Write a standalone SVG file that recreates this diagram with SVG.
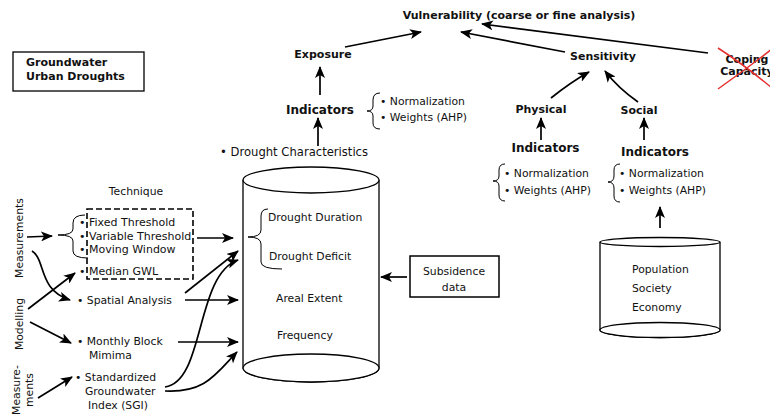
<svg xmlns="http://www.w3.org/2000/svg" width="770" height="415" viewBox="0 0 770 415">
<style>
text{font-family:"DejaVu Sans","Liberation Sans",sans-serif;fill:#111;font-size:10.8px}
.b{font-weight:bold;font-size:11px}
.ind{font-weight:bold;font-size:12px}
.m{text-anchor:middle}
.tq{font-size:11px}
.dc{font-size:11.6px}
.ar{fill:none;stroke:#000;stroke-width:1.7;marker-end:url(#ah)}
.br{fill:none;stroke:#000;stroke-width:1}
.shape{fill:#fff;stroke:#000;stroke-width:1.3}
</style>
<defs>
<marker id="ah" viewBox="0 0 12 10" refX="11" refY="5" markerWidth="12" markerHeight="10" orient="auto" markerUnits="userSpaceOnUse">
<path d="M0,0 L12,5 L0,10 L3,5 z" fill="#000"/>
</marker>
</defs>
<rect width="770" height="415" fill="#fff"/>

<g id="title">
<rect x="13" y="52" width="131" height="39" fill="#fff" stroke="#000" stroke-width="1.3"/>
<text class="b" x="26" y="66">Groundwater</text>
<text class="b" x="26" y="80">Urban Droughts</text>
</g>

<g id="vulnerability"><text class="b m" x="519" y="18.5">Vulnerability (coarse or fine analysis)</text></g>
<g id="exposure"><text class="b m" x="323" y="58">Exposure</text></g>
<g id="sensitivity"><text class="b m" x="603" y="60">Sensitivity</text></g>
<g id="coping">
<text class="b m" x="747" y="63">Coping</text>
<text class="b m" x="747" y="75">Capacity</text>
<path d="M718,48 Q743,64 772,88" fill="none" stroke="#e53030" stroke-width="1.5"/>
<path d="M718,89 Q745,70 772,49" fill="none" stroke="#e53030" stroke-width="1.5"/>
</g>

<g id="exposure-indicators">
<text class="ind m" x="320" y="114">Indicators</text>
<path class="br" d="M380,93 Q373,93 373,100 L373,106 Q373,111 367,111 Q373,111 373,116 L373,123 Q373,129 380,129"/>
<text x="380" y="105">• Normalization</text>
<text x="380" y="121">• Weights (AHP)</text>
</g>
<g id="drought-characteristics"><text class="dc" x="220" y="155.5">• Drought Characteristics</text></g>

<g id="physical"><text class="b m" x="541" y="113">Physical</text></g>
<g id="social"><text class="b m" x="639" y="114">Social</text></g>
<g id="physical-indicators">
<text class="ind m" x="545.5" y="152">Indicators</text>
<path class="br" d="M505,164 Q499,164 499,170 L499,176 Q499,181 493,181 Q499,181 499,186 L499,195 Q499,201 505,201"/>
<text x="504" y="177">• Normalization</text>
<text x="504" y="194">• Weights (AHP)</text>
</g>
<g id="social-indicators">
<text class="ind m" x="655" y="156">Indicators</text>
<path class="br" d="M620,164 Q614,164 614,170 L614,176 Q614,182 608,182 Q614,182 614,188 L614,196 Q614,202 620,202"/>
<text x="619" y="177">• Normalization</text>
<text x="619" y="194">• Weights (AHP)</text>
</g>

<g id="technique">
<text class="m" x="136" y="195">Technique</text>
<rect x="87" y="209" width="106" height="70" fill="none" stroke="#000" stroke-width="1.6" stroke-dasharray="6,3"/>
<path class="br" d="M85,215 Q73,215 73,223 L73,229 Q73,235 58,235 Q73,235 73,241 L73,251 Q73,258 88,258"/>
<text class="tq" x="79" y="226">• Fixed Threshold</text>
<text class="tq" x="79" y="240">• Variable Threshold</text>
<text class="tq" x="79" y="253">• Moving Window</text>
<text class="tq" x="79" y="275">• Median GWL</text>
</g>
<g id="spatial-analysis"><text x="77" y="304">• Spatial Analysis</text></g>
<g id="monthly-block">
<text x="77" y="345">• Monthly Block</text>
<text x="89" y="359">Mimima</text>
</g>
<g id="sgi">
<text x="75" y="381">• Standardized</text>
<text x="85" y="395">Groundwater</text>
<text x="88" y="409">Index (SGI)</text>
</g>

<g id="labels-left">
<text transform="translate(23,238) rotate(-90)" class="m">Measurements</text>
<text transform="translate(22.5,324) rotate(-90)" class="m">Modelling</text>
<text transform="translate(20,390) rotate(-90)" class="m">Measure-</text>
<text transform="translate(33,390) rotate(-90)" class="m">ments</text>
</g>

<g id="drought-cylinder">
<path class="shape" d="M243,180 L243,368 A68,14 0 0 0 379,368 L379,180"/>
<ellipse class="shape" cx="311" cy="180" rx="68" ry="13"/>
<ellipse class="shape" cx="311" cy="368" rx="68" ry="14"/>
<path class="br" d="M268,209 Q261,209 261,216 L261,230 Q261,237 248,237 Q261,237 261,244 L261,262 Q261,269 282,269"/>
<text x="268" y="221">Drought Duration</text>
<text x="269" y="260">Drought Deficit</text>
<text x="276" y="302">Areal Extent</text>
<text x="277" y="339">Frequency</text>
</g>

<g id="subsidence">
<rect x="410" y="256" width="89" height="41" fill="#fff" stroke="#000" stroke-width="1.5"/>
<text class="m" x="454" y="275">Subsidence</text>
<text class="m" x="454" y="291">data</text>
</g>

<g id="population-cylinder">
<path class="shape" d="M600,242 L600,330 A60,7.5 0 0 0 720,330 L720,242"/>
<ellipse class="shape" cx="660" cy="242" rx="60" ry="4.5"/>
<ellipse class="shape" cx="660" cy="330" rx="60" ry="7.5"/>
<text x="632" y="273">Population</text>
<text x="632" y="292">Society</text>
<text x="632" y="311">Economy</text>
</g>

<g id="connectors">
<path class="ar" d="M345,47 L421,32"/>
<path class="ar" d="M565,52 L461,32"/>
<path class="ar" d="M708,53 L482,24"/>
<path class="ar" d="M320,95 L320,67"/>
<path class="ar" d="M318,146 L318,118"/>
<path class="ar" d="M551,98 Q571,82 589,72"/>
<path class="ar" d="M638,102 Q618,88 605,71"/>
<path class="ar" d="M541,140 L541,118"/>
<path class="ar" d="M644,140 L644,118"/>
<path class="ar" d="M660,228 L660,207"/>
<path class="ar" d="M407,277 L381,277"/>
<path class="ar" d="M27,237 L52,236"/>
<path class="ar" d="M32,251 C46,260 38,290 70,300"/>
<path class="ar" d="M28,309 L75,273"/>
<path class="ar" d="M30,322 L71,343"/>
<path class="ar" d="M38,398 L72,377"/>
<path class="ar" d="M197,238 L233,238"/>
<path class="ar" d="M185,300 L238,300"/>
<path class="ar" d="M185,293 L238,251"/>
<path class="ar" d="M178,342 L238,342"/>
<path class="ar" d="M165,387 C205,382 195,275 238,260"/>
<path class="ar" d="M165,391 C205,393 215,375 237,352"/>
</g>
</svg>
